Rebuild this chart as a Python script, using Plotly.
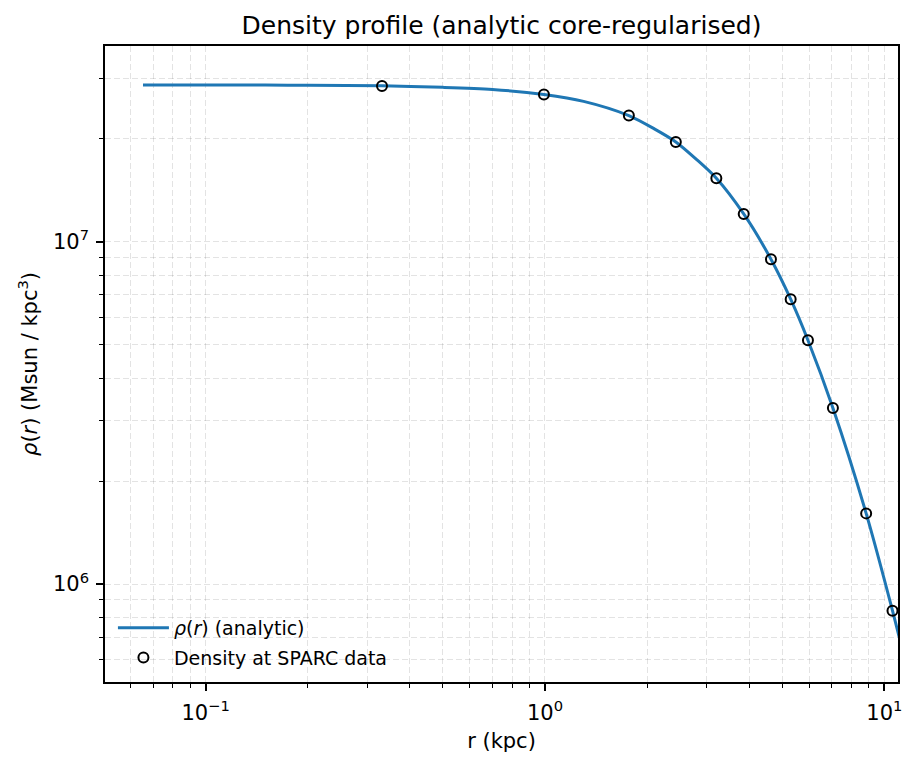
import plotly.graph_objects as go

# ---- data ----
r_curve = [0.0654, 0.1, 0.15, 0.2, 0.331, 0.5, 0.7, 0.993, 1.3, 1.767, 2.1,
           2.43, 2.8, 3.199, 3.852, 4.634, 5.297, 5.956, 7.055, 8.84, 10.57, 11.5]
rho_curve = [2.876e7, 2.875e7, 2.873e7, 2.870e7, 2.858e7, 2.830e7, 2.790e7,
             2.696e7, 2.575e7, 2.340e7, 2.140e7, 1.960e7, 1.740e7, 1.535e7,
             1.207e7, 8.90e6, 6.80e6, 5.16e6, 3.27e6, 1.609e6, 8.36e5, 5.99e5]

r_data = [0.331, 0.993, 1.767, 2.430, 3.199, 3.852, 4.634, 5.297, 5.956,
          7.055, 8.84, 10.57]
rho_data = [2.856e7, 2.696e7, 2.34e7, 1.96e7, 1.535e7, 1.207e7, 8.90e6,
            6.80e6, 5.16e6, 3.27e6, 1.609e6, 8.36e5]

x_major = [0.1, 1, 10]
x_major_text = ["10<sup>\u22121</sup>", "10<sup>0</sup>", "10<sup>1</sup>"]
x_minor = [0.06, 0.07, 0.08, 0.09, 0.2, 0.3, 0.4, 0.5, 0.6, 0.7, 0.8, 0.9,
           2, 3, 4, 5, 6, 7, 8, 9]
y_major = [1e6, 1e7]
y_major_text = ["10<sup>6</sup>", "10<sup>7</sup>"]
y_minor = [6e5, 7e5, 8e5, 9e5, 2e6, 3e6, 4e6, 5e6, 6e6, 7e6, 8e6, 9e6,
           2e7, 3e7]

FONT = "DejaVu Sans"
GRID = "rgba(0,0,0,0.11)"
DASH = "6px,3px"

fig = go.Figure()
fig.add_trace(go.Scatter(
    x=r_curve, y=rho_curve, mode="lines",
    line=dict(color="#1f77b4", width=3, shape="spline", smoothing=0.8),
    name="<i>\u03c1</i>(<i>r</i>) (analytic)", legendgroup="a",
))
fig.add_trace(go.Scatter(
    x=r_data, y=rho_data, mode="markers",
    marker=dict(symbol="circle-open", size=10, color="black",
                line=dict(width=2, color="black")),
    name="Density at SPARC data", legendgroup="b",
))

axis_common = dict(
    type="log", showline=True, linecolor="black", linewidth=1.6, mirror=True,
    ticks="outside", ticklen=7, tickwidth=1.6, tickcolor="black",
    showgrid=True, gridcolor=GRID, griddash=DASH, gridwidth=1,
    zeroline=False, tickfont=dict(family=FONT, size=21, color="black"),
)

fig.update_xaxes(
    **axis_common, range=[-1.2964, 1.0403], ticklabelstandoff=4,
    tickmode="array", tickvals=x_major, ticktext=x_major_text,
    minor=dict(tickmode="array", tickvals=x_minor, ticks="outside",
               ticklen=4, tickwidth=1.2, tickcolor="black",
               showgrid=True, gridcolor=GRID, griddash=DASH, gridwidth=1),
    title=dict(text="r (kpc)", font=dict(family=FONT, size=21, color="black"),
               standoff=9),
)
fig.update_yaxes(
    **axis_common, range=[5.7137, 7.5726], ticklabelstandoff=3,
    tickmode="array", tickvals=y_major, ticktext=y_major_text,
    minor=dict(tickmode="array", tickvals=y_minor, ticks="outside",
               ticklen=4, tickwidth=1.2, tickcolor="black",
               showgrid=True, gridcolor=GRID, griddash=DASH, gridwidth=1),
    title=dict(text="<i>\u03c1</i>(<i>r</i>) (Msun / kpc<sup>3</sup>)",
               font=dict(family=FONT, size=21, color="black"), standoff=10),
)

fig.update_layout(
    width=917, height=767,
    margin=dict(l=105, r=19, t=46, b=85, autoexpand=False),
    paper_bgcolor="white", plot_bgcolor="white",
    font=dict(family=FONT, color="black"),
    title=dict(text="Density profile (analytic core-regularised)",
               font=dict(family=FONT, size=25, color="black"),
               x=0.5, xref="paper", xanchor="center",
               y=1 - 25 / 767, yref="container", yanchor="middle"),
    legend=dict(x=0.01, y=0.008, xanchor="left", yanchor="bottom",
                bgcolor="rgba(0,0,0,0)", borderwidth=0, itemwidth=51,
                font=dict(family=FONT, size=19, color="black"),
                tracegroupgap=2, traceorder="grouped"),
    showlegend=True,
)

fig.write_html("out.html", config={"displayModeBar": False},
               post_script="document.body.style.margin='0';")
